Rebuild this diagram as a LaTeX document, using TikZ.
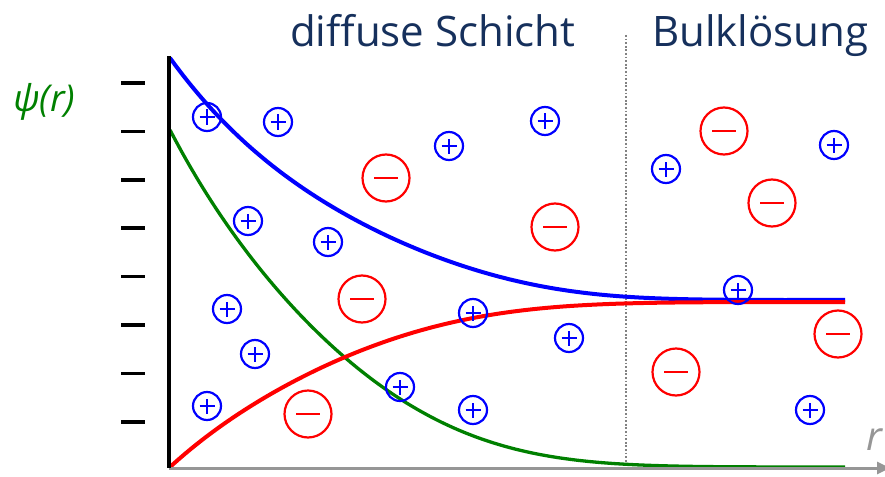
\documentclass[tikz,border=0pt]{standalone}
\usepackage{fontspec}
\setmainfont{Open Sans}
\usetikzlibrary{arrows.meta}
\definecolor{navy}{RGB}{22,48,92}
\definecolor{axgray}{RGB}{150,150,150}
\definecolor{dotgray}{RGB}{130,130,130}
\definecolor{psigreen}{RGB}{0,128,0}
\tikzset{
  plusion/.style={circle, draw=blue, line width=2.2pt, minimum size=28pt, inner sep=0pt,
    path picture={
      \draw[blue, line width=2.4pt] ([xshift=-7.5pt]path picture bounding box.center) -- ([xshift=7.5pt]path picture bounding box.center);
      \draw[blue, line width=2.4pt] ([yshift=-7.5pt]path picture bounding box.center) -- ([yshift=7.5pt]path picture bounding box.center);
    }},
  minusion/.style={circle, draw=red, line width=2.2pt, minimum size=47pt, inner sep=0pt,
    path picture={
      \draw[red, line width=2.6pt] ([xshift=-12pt]path picture bounding box.center) -- ([xshift=12pt]path picture bounding box.center);
    }},
  tickmark/.style={line width=3.5pt, black},
  curve/.style={line width=#1, domain=170:845, samples=120, smooth},
}
\begin{document}
\begin{tikzpicture}[x=1pt, y=-1pt]
\useasboundingbox (0,0) rectangle (885,476);

% labels
\node[anchor=base west, inner sep=0pt, text=navy, font=\fontsize{42}{50}\selectfont] (t1) at (290,47) {diffuse Schicht};
\node[anchor=base west, inner sep=0pt, text=navy, font=\fontsize{42}{50}\selectfont] (t2) at (652,47) {Bulklösung};
\node[anchor=base west, inner sep=0pt, text=psigreen, font=\fontsize{37}{44}\selectfont\itshape] (psi) at (13,111) {ψ(r)};
\node[anchor=base west, inner sep=0pt, text=axgray, font=\fontsize{40}{48}\selectfont\itshape] (rl) at (866,450) {r};

% dotted separator
\coordinate (dtop) at (626,35);
\coordinate (dbot) at (626,467);
\draw[dotgray, line width=2.4pt, dash pattern=on 1.8pt off 1.8pt] (dtop) -- (dbot);

% ticks
\foreach \i in {0,...,7} {
  \draw[tickmark] (121,{83+48.4*\i}) -- (145,{83+48.4*\i});
}

% curves
\draw[blue, curve=4pt] plot (\x, {300-242*exp(-((\x-170)/175)-((\x-170)/400)^4)});
\draw[psigreen, curve=3.3pt] plot (\x, {467-337*exp(-((\x-170)/175)-((\x-170)/350)^3)});
\draw[red, curve=4pt] plot (\x, {302+165*exp(-((\x-170)/180)-((\x-170)/350)^3)});

% axes
\coordinate (o) at (169,468);
\coordinate (ytop) at (169,56);
\coordinate (xend) at (890,468);
\draw[axgray, line width=3pt, -{Triangle[length=13pt,width=12pt]}] (o) -- (xend);
\draw[black, line width=3.5pt] (ytop) -- (o);

% positive ions
\node[plusion] (p1) at (207,117) {};
\node[plusion] (p2) at (278,122) {};
\node[plusion] (p3) at (449,146) {};
\node[plusion] (p4) at (545,121) {};
\node[plusion] (p5) at (666,169) {};
\node[plusion] (p6) at (834,145) {};
\node[plusion] (p7) at (248,221) {};
\node[plusion] (p8) at (328,242) {};
\node[plusion] (p9) at (227,309) {};
\node[plusion] (p10) at (473,313) {};
\node[plusion] (p11) at (569,338) {};
\node[plusion] (p12) at (255,354) {};
\node[plusion] (p13) at (400,387) {};
\node[plusion] (p14) at (207,406) {};
\node[plusion] (p15) at (473,410) {};
\node[plusion] (p16) at (738,290) {};
\node[plusion] (p17) at (810,410) {};

% negative ions
\node[minusion] (m1) at (386,178) {};
\node[minusion] (m2) at (724,131) {};
\node[minusion] (m3) at (555,227) {};
\node[minusion] (m4) at (772,203) {};
\node[minusion] (m5) at (362,299) {};
\node[minusion] (m6) at (838,334) {};
\node[minusion] (m7) at (676,372) {};
\node[minusion] (m8) at (308,414) {};
\end{tikzpicture}
\end{document}
